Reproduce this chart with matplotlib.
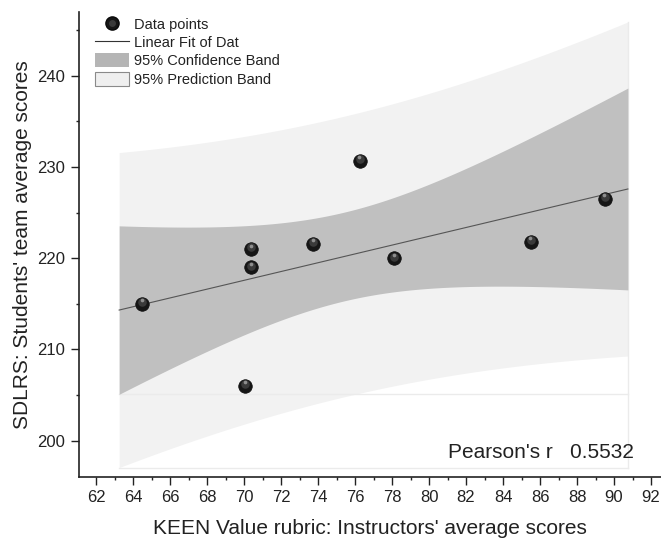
import numpy as np
import matplotlib
matplotlib.use("Agg")
import matplotlib.pyplot as plt
from matplotlib.lines import Line2D
from matplotlib.patches import Patch
from matplotlib.ticker import MultipleLocator
from matplotlib.legend_handler import HandlerTuple
import matplotlib.transforms as mtransforms

plt.rcParams['font.family'] = ['Liberation Sans', 'DejaVu Sans']

# ---- data ----
instructor_scores = [64.5, 70.05, 70.4, 70.4, 73.75, 76.25, 78.1, 85.5, 89.5]
student_scores = [215.0, 206.0, 221.0, 219.0, 221.6, 230.7, 220.0, 221.8, 226.5]
x_ticks = [62, 64, 66, 68, 70, 72, 74, 76, 78, 80, 82, 84, 86, 88, 90, 92]
y_ticks = [200, 210, 220, 230, 240]
legend_labels = ["Data points", "Linear Fit of Dat", "95% Confidence Band", "95% Prediction Band"]
pearson_text = "Pearson's r   0.5532"
x_label = "KEEN Value rubric: Instructors' average scores"
y_label = "SDLRS: Students' team average scores"
t_975_df7 = 2.3646  # Student t quantile for 95% bands, n-2 = 7 dof

# ---- regression & bands (computed from the data) ----
x = np.asarray(instructor_scores)
y = np.asarray(student_scores)
n = len(x)
slope, intercept = np.polyfit(x, y, 1)
span = x.max() - x.min()
xf = np.linspace(x.min() - 0.05 * span, x.max() + 0.05 * span, 300)
yf = intercept + slope * xf
resid = y - (intercept + slope * x)
s = np.sqrt(np.sum(resid ** 2) / (n - 2))
sxx = np.sum((x - x.mean()) ** 2)
se_mean = s * np.sqrt(1.0 / n + (xf - x.mean()) ** 2 / sxx)
se_pred = s * np.sqrt(1.0 + 1.0 / n + (xf - x.mean()) ** 2 / sxx)
conf_lo, conf_hi = yf - t_975_df7 * se_mean, yf + t_975_df7 * se_mean
pred_lo, pred_hi = yf - t_975_df7 * se_pred, yf + t_975_df7 * se_pred

# ---- figure ----
fig = plt.figure(figsize=(6.61, 5.40), dpi=100)
ax = fig.add_axes([79 / 661, 63.3 / 540, 582 / 661, 464.7 / 540])
ax.set_xlim(61.08, 92.54)
ax.set_ylim(196.05, 247.0)

pred_color = "#f2f2f2"
conf_color = "#c0c0c0"
faint = "#ebebeb"

ax.fill_between(xf, pred_lo, pred_hi, color=pred_color, lw=0, zorder=1)
ax.fill_between(xf, conf_lo, conf_hi, color=conf_color, lw=0, zorder=2)
# faint outline artefacts of the band fills
ax.plot([xf[0], xf[-1]], [conf_lo[0], conf_lo[0]], color=faint, lw=1.0, zorder=1.5)
ax.plot([xf[0], xf[-1]], [pred_lo[0], pred_lo[0]], color=faint, lw=1.0, zorder=1.5)
ax.plot([xf[-1], xf[-1]], [pred_lo[0], pred_hi[-1]], color=faint, lw=1.0, zorder=1.5)

ax.plot(xf, yf, color="#555555", lw=0.8, zorder=3)

# sphere-like markers
ax.scatter(x, y, s=95, color="#161616", edgecolors="#0a0a0a", linewidths=0.5, zorder=4)
off1 = mtransforms.offset_copy(ax.transData, fig=fig, x=0, y=1.2, units='points')
off2 = mtransforms.offset_copy(ax.transData, fig=fig, x=-0.2, y=2.6, units='points')
ax.scatter(x, y, s=38, color="#3a3a3a", linewidths=0, zorder=5, transform=off1)
ax.scatter(x, y, s=7, color="#8e8e8e", linewidths=0, zorder=6, transform=off2)

# axes styling
for side in ("top", "right"):
    ax.spines[side].set_visible(False)
for side in ("left", "bottom"):
    ax.spines[side].set_linewidth(1.2)
    ax.spines[side].set_color("#222222")
ax.set_xticks(x_ticks)
ax.set_yticks(y_ticks)
ax.xaxis.set_minor_locator(MultipleLocator(1))
ax.yaxis.set_minor_locator(MultipleLocator(5))
ax.tick_params(which='major', direction='out', length=6, width=1.0, colors="#222222",
               labelsize=12, labelcolor="#222222")
ax.tick_params(which='minor', direction='out', length=2.5, width=1.0, colors="#222222")
ax.tick_params(axis='x', which='major', pad=3.5)
ax.tick_params(axis='y', which='major', pad=4)

ax.set_xlabel(x_label, fontsize=15, color="#222222", labelpad=10.5)
ax.set_ylabel(y_label, fontsize=15, color="#222222", labelpad=4)

ax.text(0.9536, 0.053, pearson_text, transform=ax.transAxes, ha='right', va='center',
        fontsize=15, color="#222222", zorder=7)

sphere_handle = (
    Line2D([], [], linestyle='none', marker='o', markersize=9.5, markerfacecolor="#161616",
           markeredgecolor="#0a0a0a"),
    Line2D([], [], linestyle='none', marker='o', markersize=5, markerfacecolor="#3a3a3a",
           markeredgewidth=0),
)
handles = [
    sphere_handle,
    Line2D([], [], color="#333333", lw=0.8),
    Patch(facecolor="#b5b5b5", edgecolor="none"),
    Patch(facecolor="#efefef", edgecolor="#8a8a8a", linewidth=0.8),
]
leg = ax.legend(handles, legend_labels, loc='upper left', bbox_to_anchor=(0.0275, 0.989),
                frameon=False, fontsize=10.5, borderpad=0, borderaxespad=0,
                labelspacing=0.22, handlelength=2.3, handleheight=1.1, handletextpad=0.35,
                handler_map={tuple: HandlerTuple(ndivide=1, pad=0)})
for t in leg.get_texts():
    t.set_color("#222222")

fig.savefig("out.png", dpi=100)
